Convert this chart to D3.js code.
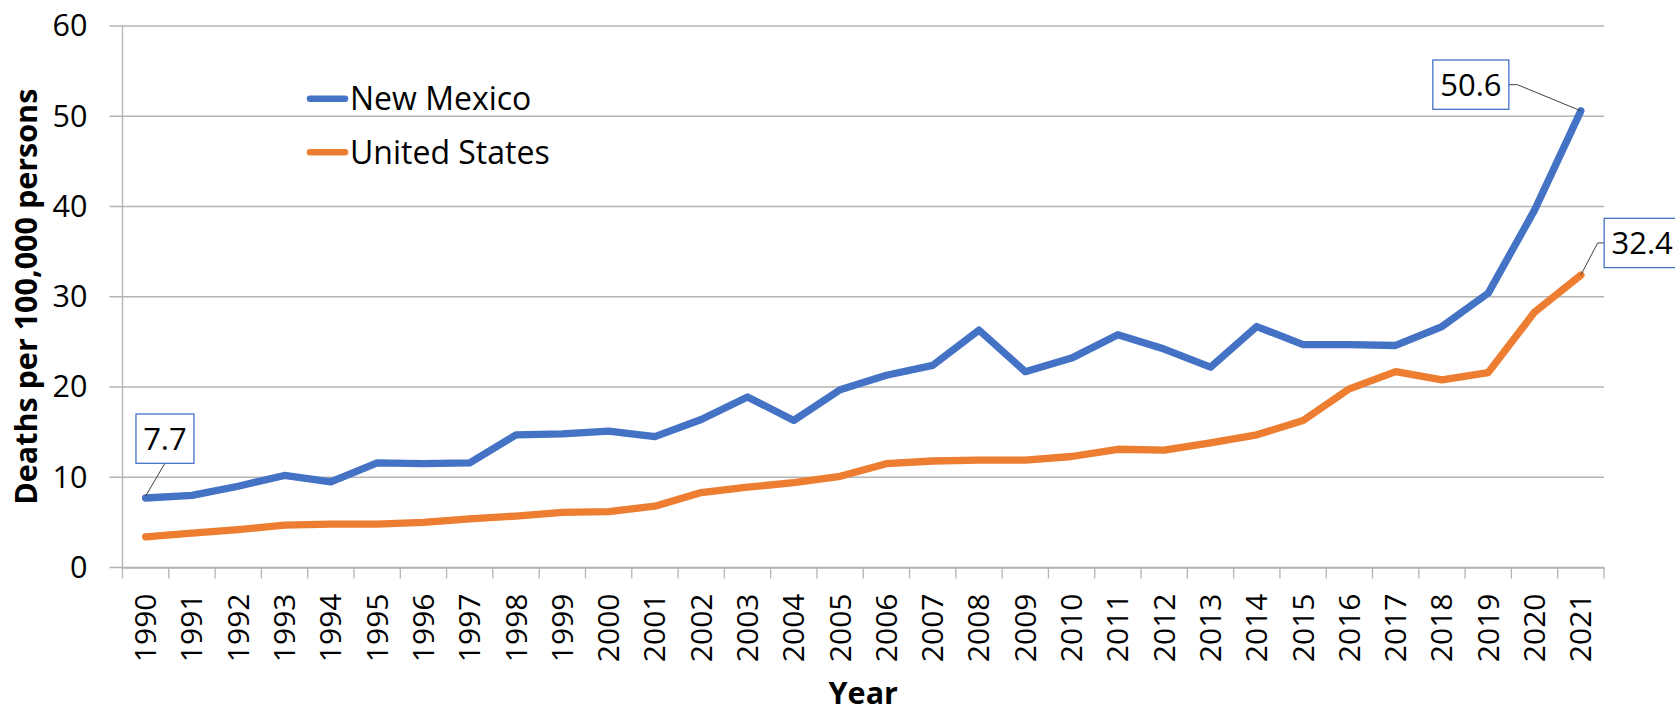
<!DOCTYPE html>
<html>
<head>
<meta charset="utf-8">
<script src="https://cdn.jsdelivr.net/npm/d3@7"></script>
<style>
  body { margin: 0; background: #fff; }
  svg { display: block; font-family: 'Open Sans', sans-serif; }
  .tick text { fill: #000; }
</style>
</head>
<body>
<svg width="1675" height="708"></svg>
<script>
// data
const years = d3.range(1990, 2022);
const newMexico = [7.7, 8.0, 9.0, 10.2, 9.5, 11.6, 11.5, 11.6, 14.7, 14.8, 15.1,
  14.5, 16.4, 18.9, 16.3, 19.7, 21.3, 22.4, 26.3, 21.7, 23.2, 25.8, 24.2,
  22.2, 26.7, 24.7, 24.7, 24.6, 26.7, 30.4, 39.6, 50.6];
const unitedStates = [3.4, 3.8, 4.2, 4.7, 4.8, 4.8, 5.0, 5.4, 5.7, 6.1, 6.2,
  6.8, 8.3, 8.9, 9.4, 10.1, 11.5, 11.8, 11.9, 11.9, 12.3, 13.1, 13.0,
  13.8, 14.7, 16.3, 19.8, 21.7, 20.8, 21.6, 28.3, 32.4];
const yTicks = [0, 10, 20, 30, 40, 50, 60];
const seriesNames = ['New Mexico', 'United States'];
const colors = ['#4472C4', '#ED7D31'];

const svg = d3.select('svg');
const width = +svg.attr('width');
const height = +svg.attr('height');

const margin = { top: 26, right: 71, bottom: 140.5, left: 122.5 };
const innerWidth = width - margin.left - margin.right;
const innerHeight = height - margin.top - margin.bottom;

const x = d3.scaleBand()
  .domain(years)
  .range([0, innerWidth])
  .padding(0);
const y = d3.scaleLinear()
  .domain([0, 60])
  .range([innerHeight, 0]);
const cx = yr => x(yr) + x.bandwidth() / 2;

const g = svg.append('g')
  .attr('transform', `translate(${margin.left}, ${margin.top})`);

// gridlines (extend left as outside tick marks)
g.append('g')
  .selectAll('line').data(yTicks)
  .enter().append('line')
  .attr('x1', -13).attr('x2', innerWidth)
  .attr('y1', d => y(d)).attr('y2', d => y(d))
  .attr('stroke', '#b4b4b4').attr('stroke-width', 1.3);

// y axis labels
const yAxis = d3.axisLeft(y).tickValues(yTicks).tickSize(12).tickPadding(23);
const yAxisG = g.append('g').call(yAxis);
yAxisG.selectAll('.domain, .tick line').remove();
yAxisG.selectAll('text')
  .attr('font-size', 30.5)
  .attr('font-family', 'Open Sans');

// y axis line
g.append('line')
  .attr('x1', 0).attr('x2', 0)
  .attr('y1', 0).attr('y2', innerHeight)
  .attr('stroke', '#b4b4b4').attr('stroke-width', 1.3);

// x axis
const xAxisG = g.append('g')
  .attr('transform', `translate(0, ${innerHeight})`)
  .call(d3.axisBottom(x).tickSize(0).tickSizeOuter(0));
xAxisG.select('.domain').attr('stroke', '#b4b4b4').attr('stroke-width', 1.3);
xAxisG.selectAll('text')
  .attr('font-size', 30)
  .attr('font-family', 'Open Sans')
  .attr('transform', 'rotate(-90)')
  .attr('x', -26)
  .attr('y', 0)
  .attr('dy', '0.35em')
  .attr('text-anchor', 'end');

// boundary tick marks between categories
const boundaries = years.map(yr => x(yr)).concat([x.range()[1]]);
xAxisG.selectAll('.bound').data(boundaries)
  .enter().append('line')
  .attr('class', 'bound')
  .attr('x1', d => d).attr('x2', d => d)
  .attr('y1', 0).attr('y2', 11)
  .attr('stroke', '#b4b4b4').attr('stroke-width', 1.3);

// axis titles
svg.append('text')
  .attr('transform', `translate(37, ${margin.top + innerHeight / 2}) rotate(-90)`)
  .attr('text-anchor', 'middle')
  .attr('font-size', 30.5)
  .attr('font-weight', 'bold')
  .text('Deaths per 100,000 persons');

svg.append('text')
  .attr('x', margin.left + innerWidth / 2)
  .attr('y', 704)
  .attr('text-anchor', 'middle')
  .attr('font-size', 30.5)
  .attr('font-weight', 'bold')
  .text('Year');

// lines
const line = d3.line()
  .x((d, i) => cx(years[i]))
  .y(d => y(d));

[unitedStates, newMexico].forEach((vals, k) => {
  g.append('path')
    .datum(vals)
    .attr('fill', 'none')
    .attr('stroke', k === 0 ? colors[1] : colors[0])
    .attr('stroke-width', 7.3)
    .attr('stroke-linejoin', 'round')
    .attr('stroke-linecap', 'round')
    .attr('d', line);
});

// legend
const legend = svg.append('g').attr('transform', 'translate(307, 98.8)');
seriesNames.forEach((name, i) => {
  const row = legend.append('g').attr('transform', `translate(0, ${i * 53.5})`);
  row.append('line')
    .attr('x1', 3).attr('x2', 38)
    .attr('stroke', colors[i]).attr('stroke-width', 6.5)
    .attr('stroke-linecap', 'round');
  row.append('text')
    .attr('x', 43)
    .attr('dy', '0.35em')
    .attr('font-size', 32)
    .text(name);
});

// data labels with leader lines
const first = years[0], last = years[years.length - 1];
const labels = [
  { year: first, value: newMexico[0], dx: -9.7, dy: -84,
    leader: (bx, by, w, h, px, py) => [[bx + w / 2, by + h], [px, py - 2]] },
  { year: last, value: newMexico[newMexico.length - 1], dx: -148, dy: -50.8,
    leader: (bx, by, w, h, px, py) => [[bx + w, by + h / 2], [bx + w + 8.5, by + h / 2], [px, py]] },
  { year: last, value: unitedStates[unitedStates.length - 1], dx: 23.3, dy: -56.8,
    leader: (bx, by, w, h, px, py) => [[bx, by + h / 2], [bx - 6.5, by + h / 2], [px, py]] }
];

labels.forEach(l => {
  const px = cx(l.year), py = y(l.value);
  const text = String(l.value);
  const w = text.length > 3 ? 76 : 58;
  const h = 49.3;
  const bx = px + l.dx, by = py + l.dy;
  g.append('path')
    .attr('d', d3.line()(l.leader(bx, by, w, h, px, py)))
    .attr('fill', 'none')
    .attr('stroke', '#404040')
    .attr('stroke-width', 1);
  g.append('rect')
    .attr('x', bx).attr('y', by)
    .attr('width', w).attr('height', h)
    .attr('fill', '#fff')
    .attr('stroke', colors[0])
    .attr('stroke-width', 1.3);
  g.append('text')
    .attr('x', bx + w / 2)
    .attr('y', by + h / 2)
    .attr('dy', '0.35em')
    .attr('text-anchor', 'middle')
    .attr('font-size', 31)
    .text(text);
});
</script>
</body>
</html>
